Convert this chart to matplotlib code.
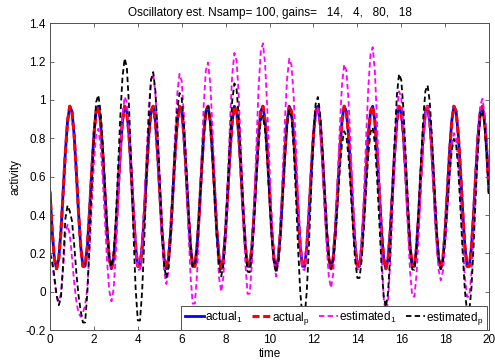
import numpy as np
import matplotlib
matplotlib.use("Agg")
import matplotlib.pyplot as plt
from matplotlib.ticker import FuncFormatter

plt.rcParams['font.family'] = ['Liberation Sans', 'DejaVu Sans']
plt.rcParams['mathtext.default'] = 'regular'
plt.rcParams['axes.unicode_minus'] = False

# sample times (0.1 s steps over 0..20)
time = np.linspace(0, 20, 201)

# actual activity (actual_1 and actual_p overlap in the picture)
actual_1 = [
    0.518, 0.317, 0.173, 0.120, 0.173, 0.317, 0.518, 0.726, 0.889, 0.967,
    0.940, 0.816, 0.625, 0.414, 0.235, 0.133, 0.133, 0.235, 0.414, 0.625,
    0.816, 0.940, 0.967, 0.889, 0.726, 0.518, 0.317, 0.173, 0.120, 0.173,
    0.317, 0.518, 0.726, 0.889, 0.967, 0.940, 0.816, 0.625, 0.414, 0.235,
    0.133, 0.133, 0.235, 0.414, 0.625, 0.816, 0.940, 0.967, 0.889, 0.726,
    0.518, 0.317, 0.173, 0.120, 0.173, 0.317, 0.518, 0.726, 0.889, 0.967,
    0.940, 0.816, 0.625, 0.414, 0.235, 0.133, 0.133, 0.235, 0.414, 0.625,
    0.816, 0.940, 0.967, 0.889, 0.726, 0.518, 0.317, 0.173, 0.120, 0.173,
    0.317, 0.518, 0.726, 0.889, 0.967, 0.940, 0.816, 0.625, 0.414, 0.235,
    0.133, 0.133, 0.235, 0.414, 0.625, 0.816, 0.940, 0.967, 0.889, 0.726,
    0.518, 0.317, 0.173, 0.120, 0.173, 0.317, 0.518, 0.726, 0.889, 0.967,
    0.940, 0.816, 0.625, 0.414, 0.235, 0.133, 0.133, 0.235, 0.414, 0.625,
    0.816, 0.940, 0.967, 0.889, 0.726, 0.518, 0.317, 0.173, 0.120, 0.173,
    0.317, 0.518, 0.726, 0.889, 0.967, 0.940, 0.816, 0.625, 0.414, 0.235,
    0.133, 0.133, 0.235, 0.414, 0.625, 0.816, 0.940, 0.967, 0.889, 0.726,
    0.518, 0.317, 0.173, 0.120, 0.173, 0.317, 0.518, 0.726, 0.889, 0.967,
    0.940, 0.816, 0.625, 0.414, 0.235, 0.133, 0.133, 0.235, 0.414, 0.625,
    0.816, 0.940, 0.967, 0.889, 0.726, 0.518, 0.317, 0.173, 0.120, 0.173,
    0.317, 0.518, 0.726, 0.889, 0.967, 0.940, 0.816, 0.625, 0.414, 0.235,
    0.133, 0.133, 0.235, 0.414, 0.625, 0.816, 0.940, 0.967, 0.889, 0.726,
    0.518,
]
actual_p = list(actual_1)

estimated_1 = [
    0.20, 0.15, 0.06, -0.02, -0.05, -0.01, 0.12, 0.30, 0.35, 0.30,
    0.18, 0.05, -0.05, -0.11, -0.13, -0.11, -0.07, 0.02, 0.21, 0.45,
    0.67, 0.82, 0.85, 0.765, 0.592, 0.371, 0.159, 0.006, -0.05, 0.016,
    0.198, 0.451, 0.713, 0.918, 1.016, 0.988, 0.853, 0.646, 0.418, 0.224,
    0.114, 0.116, 0.240, 0.460, 0.718, 0.952, 1.104, 1.136, 1.036, 0.824,
    0.555, 0.295, 0.108, 0.04, 0.108, 0.295, 0.555, 0.824, 1.036, 1.136,
    1.097, 0.919, 0.645, 0.342, 0.085, -0.062, -0.061, 0.093, 0.363, 0.680,
    0.968, 1.155, 1.195, 1.086, 0.856, 0.562, 0.278, 0.074, 0.00, 0.078,
    0.290, 0.585, 0.891, 1.131, 1.245, 1.205, 1.018, 0.730, 0.413, 0.143,
    -0.011, -0.010, 0.150, 0.430, 0.760, 1.059, 1.253, 1.295, 1.184, 0.950,
    0.651, 0.363, 0.156, 0.08, 0.151, 0.344, 0.614, 0.893, 1.112, 1.215,
    1.181, 1.017, 0.765, 0.488, 0.251, 0.117, 0.113, 0.216, 0.398, 0.611,
    0.804, 0.930, 0.957, 0.871, 0.690, 0.460, 0.238, 0.078, 0.02, 0.093,
    0.291, 0.568, 0.854, 1.079, 1.185, 1.152, 0.993, 0.747, 0.477, 0.247,
    0.116, 0.118, 0.259, 0.508, 0.801, 1.066, 1.239, 1.275, 1.147, 0.878,
    0.535, 0.205, -0.033, -0.12, -0.047, 0.151, 0.428, 0.714, 0.939, 1.045,
    1.012, 0.853, 0.607, 0.337, 0.107, -0.024, -0.025, 0.096, 0.309, 0.560,
    0.787, 0.935, 0.966, 0.884, 0.709, 0.486, 0.271, 0.116, 0.06, 0.108,
    0.239, 0.420, 0.609, 0.757, 0.827, 0.800, 0.673, 0.477, 0.261, 0.077,
    -0.027, -0.024, 0.102, 0.323, 0.584, 0.820, 0.973, 1.006, 0.924, 0.749,
    0.526,
]

estimated_p = [
    0.20, 0.16, 0.08, -0.02, -0.07, -0.03, 0.15, 0.38, 0.45, 0.42,
    0.37, 0.25, 0.10, -0.02, -0.10, -0.16, -0.16, -0.008, 0.245, 0.543,
    0.813, 0.988, 1.025, 0.945, 0.772, 0.551, 0.339, 0.186, 0.13, 0.198,
    0.383, 0.640, 0.907, 1.116, 1.216, 1.171, 0.968, 0.656, 0.311, 0.018,
    -0.149, -0.150, 0.008, 0.287, 0.614, 0.911, 1.104, 1.145, 1.047, 0.840,
    0.575, 0.321, 0.137, 0.07, 0.130, 0.295, 0.524, 0.762, 0.948, 1.036,
    1.008, 0.873, 0.666, 0.438, 0.244, 0.134, 0.133, 0.235, 0.414, 0.625,
    0.816, 0.940, 0.967, 0.885, 0.715, 0.497, 0.286, 0.135, 0.08, 0.143,
    0.314, 0.553, 0.800, 0.994, 1.086, 1.055, 0.909, 0.684, 0.436, 0.225,
    0.105, 0.102, 0.202, 0.377, 0.583, 0.770, 0.891, 0.917, 0.842, 0.685,
    0.484, 0.290, 0.151, 0.10, 0.153, 0.297, 0.498, 0.706, 0.869, 0.947,
    0.912, 0.751, 0.503, 0.231, -0.002, -0.134, -0.132, 0.008, 0.255, 0.545,
    0.808, 0.979, 1.015, 0.935, 0.762, 0.541, 0.329, 0.176, 0.12, 0.165,
    0.287, 0.457, 0.633, 0.772, 0.837, 0.813, 0.699, 0.523, 0.330, 0.165,
    0.072, 0.072, 0.168, 0.337, 0.535, 0.715, 0.832, 0.857, 0.771, 0.590,
    0.360, 0.138, -0.022, -0.08, -0.004, 0.203, 0.491, 0.790, 1.024, 1.135,
    1.104, 0.952, 0.718, 0.460, 0.240, 0.116, 0.115, 0.232, 0.439, 0.682,
    0.903, 1.046, 1.076, 0.989, 0.804, 0.569, 0.343, 0.180, 0.12, 0.162,
    0.278, 0.438, 0.605, 0.735, 0.797, 0.768, 0.633, 0.426, 0.198, 0.004,
    -0.106, -0.104, 0.024, 0.250, 0.516, 0.756, 0.913, 0.946, 0.869, 0.706,
    0.498,
]

title = "Oscillatory est. Nsamp= 100, gains=   14,   4,   80,   18"
labels = ["actual$_1$", "actual$_p$", "estimated$_1$", "estimated$_p$"]


def main():
    fig = plt.figure(figsize=(4.95, 3.62), dpi=100)
    ax = fig.add_axes([0.101, 0.088, 0.887, 0.848])

    ax.plot(time, actual_1, color="#0000ff", lw=2.0, label=labels[0])
    ax.plot(time, actual_p, color="#ff0000", lw=2.2, ls=(0, (2.3, 1.2)), label=labels[1])
    ax.plot(time, estimated_1, color="#ff00ff", lw=1.3, ls=(0, (3.0, 1.8)), label=labels[2])
    ax.plot(time, estimated_p, color="k", lw=1.3, ls=(0, (3.0, 1.8)), label=labels[3])

    ax.set_xlim(0, 20)
    ax.set_ylim(-0.2, 1.4)
    ax.set_xticks(np.arange(0, 21, 2))
    ax.set_yticks(np.arange(-0.2, 1.41, 0.2))
    fmt = FuncFormatter(lambda v, p: "%g" % round(v, 1))
    ax.xaxis.set_major_formatter(fmt)
    ax.yaxis.set_major_formatter(fmt)
    ax.tick_params(direction="in", top=True, right=True, length=3,
                   width=0.6, labelsize=8.5, color="#505050", pad=3)
    for s in ax.spines.values():
        s.set_color("#505050")
        s.set_linewidth(0.7)

    ax.set_title(title, fontsize=8.5, pad=5)
    ax.set_xlabel("time", fontsize=8.5, labelpad=1)
    ax.set_ylabel("activity", fontsize=8.5, labelpad=3)

    leg = ax.legend(loc="lower right", bbox_to_anchor=(0.995, 0.0), ncol=4,
                    fontsize=8.5, handlelength=1.6, handletextpad=0.1,
                    columnspacing=0.8, borderpad=0.3, borderaxespad=0,
                    fancybox=False, framealpha=1)
    leg.get_frame().set_edgecolor("#505050")
    leg.get_frame().set_linewidth(0.7)

    fig.savefig("out.png", dpi=100)


if '__main__' == __name__:
    main()
